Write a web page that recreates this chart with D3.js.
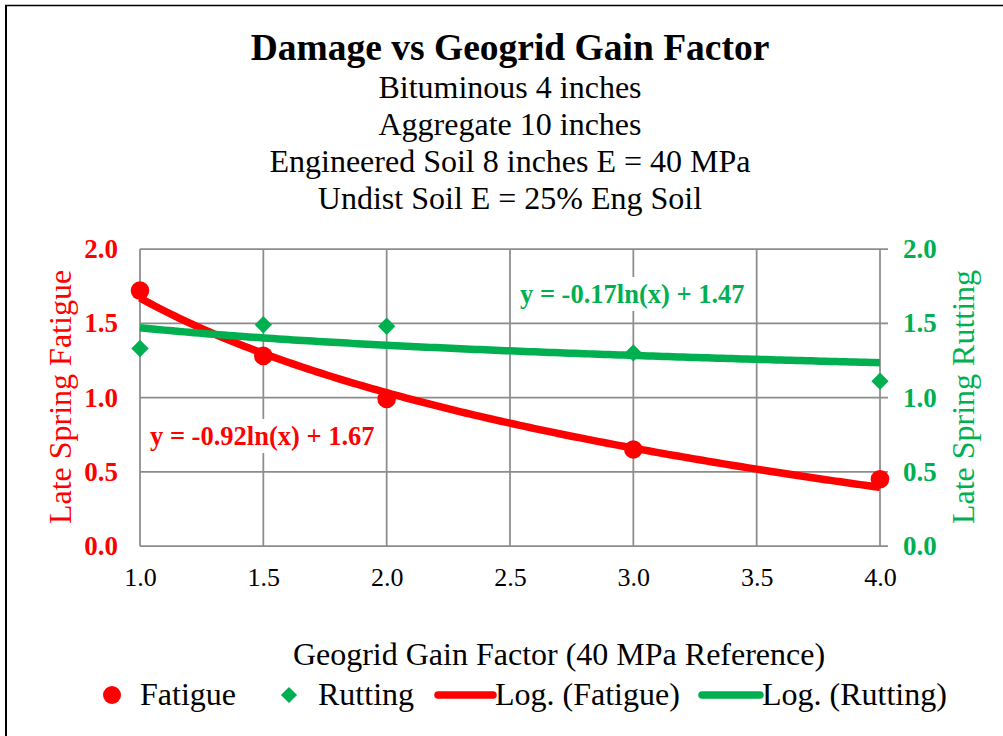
<!DOCTYPE html>
<html>
<head>
<meta charset="utf-8">
<script src="https://cdn.jsdelivr.net/npm/d3@7"></script>
<style>
  html, body { margin: 0; padding: 0; background: #fff; }
  svg { display: block; }
  text { font-family: "Liberation Serif", "Times New Roman", serif; }
</style>
</head>
<body>
<svg id="chart" width="1003" height="736"></svg>
<script>
// Damage results for each geogrid gain factor
const gainFactor = [1.0, 1.5, 2.0, 3.0, 4.0];
const fatigue    = [1.72, 1.28, 0.99, 0.65, 0.45];
const rutting    = [1.33, 1.49, 1.48, 1.30, 1.11];

// Logarithmic trendline coefficients: y = a*ln(x) + b
const fatigueFit = [-0.92, 1.67];
const ruttingFit = [-0.17, 1.47];

const xTicks = [1.0, 1.5, 2.0, 2.5, 3.0, 3.5, 4.0];
const yTicks = [0.0, 0.5, 1.0, 1.5, 2.0];

const titleText = "Damage vs Geogrid Gain Factor";
const subtitleLines = [
  "Bituminous 4 inches",
  "Aggregate 10 inches",
  "Engineered Soil 8 inches E = 40 MPa",
  "Undist Soil E = 25% Eng Soil"
];

const RED = "#ff0000";
const GREEN = "#00b050";
const GRID = "#8c8c8c";

const svg = d3.select("#chart");

// outer frame
svg.append("line").attr("x1", 6).attr("x2", 6).attr("y1", 5).attr("y2", 736)
  .attr("stroke", "#000").attr("stroke-width", 2);
svg.append("line").attr("x1", 5).attr("x2", 1003).attr("y1", 5.5).attr("y2", 5.5)
  .attr("stroke", "#000").attr("stroke-width", 1.5);

// titles
svg.append("text").attr("x", 510).attr("y", 60).attr("text-anchor", "middle")
  .attr("font-size", 37.5).attr("font-weight", "bold").attr("fill", "#000").text(titleText);
svg.selectAll("text.sub").data(subtitleLines).join("text").attr("class", "sub")
  .attr("x", 510).attr("y", (d, i) => 98 + i * 37).attr("text-anchor", "middle")
  .attr("font-size", 32).attr("fill", "#000").text(d => d);

// scales
const x = d3.scaleLinear().domain([1, 4]).range([140, 880]);
const yL = d3.scaleLinear().domain([0, 2]).range([546, 249]);
const yR = d3.scaleLinear().domain([0, 2]).range([546, 249]);

// gridlines
const grid = svg.append("g");
grid.selectAll("line.h").data(yTicks).join("line").attr("class", "h")
  .attr("x1", x(1)).attr("x2", x(4) + 8)
  .attr("y1", d => yL(d)).attr("y2", d => yL(d))
  .attr("stroke", GRID).attr("stroke-width", 1.75);
grid.selectAll("line.v").data(xTicks).join("line").attr("class", "v")
  .attr("x1", d => x(d)).attr("x2", d => x(d))
  .attr("y1", yL(2)).attr("y2", yL(0))
  .attr("stroke", GRID).attr("stroke-width", 1.75);

// axis tick labels via d3 axes (axis lines hidden, labels styled)
const fmt = d3.format(".1f");
const xAxis = svg.append("g").attr("transform", `translate(0,${yL(0)})`)
  .call(d3.axisBottom(x).tickValues(xTicks).tickFormat(fmt).tickSize(0).tickPadding(22));
xAxis.select(".domain").remove();
xAxis.selectAll("text").attr("font-family", "Liberation Serif").attr("font-size", 26).attr("fill", "#000");

const yAxisL = svg.append("g").attr("transform", `translate(${x(1)},0)`)
  .call(d3.axisLeft(yL).tickValues(yTicks).tickFormat(fmt).tickSize(0).tickPadding(22));
yAxisL.select(".domain").remove();
yAxisL.selectAll("text").attr("font-family", "Liberation Serif").attr("font-size", 27)
  .attr("font-weight", "bold").attr("fill", RED);

const yAxisR = svg.append("g").attr("transform", `translate(${x(4)},0)`)
  .call(d3.axisRight(yR).tickValues(yTicks).tickFormat(fmt).tickSize(0).tickPadding(23));
yAxisR.select(".domain").remove();
yAxisR.selectAll("text").attr("font-family", "Liberation Serif").attr("font-size", 27)
  .attr("font-weight", "bold").attr("fill", GREEN);

// axis titles
svg.append("text").attr("transform", "translate(71,397) rotate(-90)").attr("text-anchor", "middle")
  .attr("font-size", 32).attr("fill", RED).text("Late Spring Fatigue");
svg.append("text").attr("transform", "translate(974,397) rotate(-90)").attr("text-anchor", "middle")
  .attr("font-size", 32).attr("fill", GREEN).text("Late Spring Rutting");
svg.append("text").attr("x", 559).attr("y", 665).attr("text-anchor", "middle")
  .attr("font-size", 32).attr("fill", "#000").text("Geogrid Gain Factor (40 MPa Reference)");

// data markers
const fatiguePts = gainFactor.map((g, i) => [g, fatigue[i]]);
const ruttingPts = gainFactor.map((g, i) => [g, rutting[i]]);
const diamondPath = d3.symbol().type(d3.symbolSquare).size(150)();

svg.append("g").selectAll("circle").data(fatiguePts).join("circle")
  .attr("cx", d => x(d[0])).attr("cy", d => yL(d[1])).attr("r", 9.3).attr("fill", RED);

svg.append("g").selectAll("path").data(ruttingPts).join("path")
  .attr("d", diamondPath)
  .attr("transform", d => `translate(${x(d[0])},${yR(d[1])}) rotate(45)`)
  .attr("fill", GREEN);

// logarithmic trendlines
const xs = d3.range(1, 4.0001, 0.02);
const trend = (fit) => xs.map(v => [v, fit[0] * Math.log(v) + fit[1]]);
const lineL = d3.line().x(d => x(d[0])).y(d => yL(d[1]));
const lineR = d3.line().x(d => x(d[0])).y(d => yR(d[1]));

svg.append("path").datum(trend(fatigueFit)).attr("d", lineL)
  .attr("fill", "none").attr("stroke", RED).attr("stroke-width", 7.5);
svg.append("path").datum(trend(ruttingFit)).attr("d", lineR)
  .attr("fill", "none").attr("stroke", GREEN).attr("stroke-width", 7.5);

// trendline equations
function eqLabel(xPos, yPos, fit, color) {
  const txt = `y = ${fit[0].toFixed(2)}ln(x) + ${fit[1].toFixed(2)}`;
  const g = svg.append("g");
  const t = g.append("text").attr("x", xPos).attr("y", yPos)
    .attr("font-size", 26.5).attr("font-weight", "bold").attr("fill", color).text(txt);
  const bb = t.node().getBBox();
  g.insert("rect", "text").attr("x", bb.x - 3).attr("y", bb.y - 2)
    .attr("width", bb.width + 6).attr("height", bb.height + 4).attr("fill", "#fff");
}
eqLabel(150, 445, fatigueFit, RED);
eqLabel(520, 303, ruttingFit, GREEN);

// legend
const leg = svg.append("g");
const legY = 695;
leg.append("circle").attr("cx", 112).attr("cy", legY).attr("r", 9).attr("fill", RED);
leg.append("text").attr("x", 140).attr("y", legY + 10).attr("font-size", 32).text("Fatigue");
leg.append("path").attr("d", d3.symbol().type(d3.symbolSquare).size(130)())
  .attr("transform", `translate(289,${legY}) rotate(45)`).attr("fill", GREEN);
leg.append("text").attr("x", 318).attr("y", legY + 10).attr("font-size", 32).text("Rutting");
leg.append("line").attr("x1", 438).attr("x2", 493).attr("y1", legY).attr("y2", legY)
  .attr("stroke", RED).attr("stroke-width", 7.5).attr("stroke-linecap", "round");
leg.append("text").attr("x", 495).attr("y", legY + 10).attr("font-size", 32).text("Log. (Fatigue)");
leg.append("line").attr("x1", 702).attr("x2", 760).attr("y1", legY).attr("y2", legY)
  .attr("stroke", GREEN).attr("stroke-width", 7.5).attr("stroke-linecap", "round");
leg.append("text").attr("x", 762).attr("y", legY + 10).attr("font-size", 32).text("Log. (Rutting)");
</script>
</body>
</html>
